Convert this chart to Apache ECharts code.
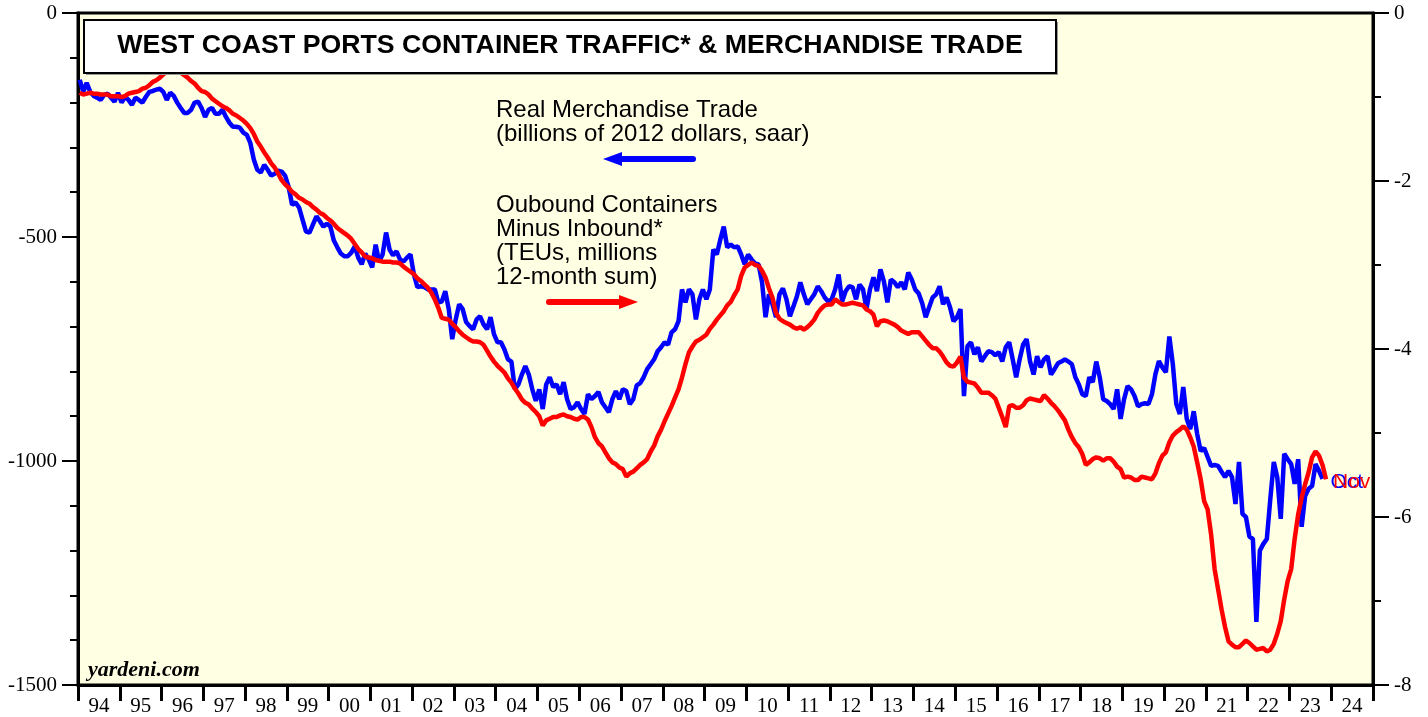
<!DOCTYPE html>
<html>
<head>
<meta charset="utf-8">
<script src="https://cdn.jsdelivr.net/npm/echarts@6/dist/echarts.min.js"></script>
<style>html,body{margin:0;padding:0;background:#fff;}#chart{width:1428px;height:717px;}</style>
</head>
<body>
<div id="chart"></div>
<script>
// x-axis tick labels (years)
const yearLabels = ['94','95','96','97','98','99','00','01','02','03','04','05','06','07','08','09','10','11','12','13','14','15','16','17','18','19','20','21','22','23','24'];
const startYear = 1994;

// Real Merchandise Trade balance, billions of 2012 dollars, saar (monthly, Jan 1994 - Oct 2023)
const tradeBalance = [
 -149,-176,-156,-176,-185,-189,-194,-183,-180,-189,-198,-178,
 -200,-187,-194,-205,-189,-194,-200,-187,-176,-174,-171,-169,
 -176,-194,-178,-185,-200,-212,-223,-223,-216,-200,-198,-212,
 -232,-216,-212,-225,-225,-216,-232,-245,-254,-254,-256,-267,
 -272,-290,-327,-350,-356,-339,-350,-363,-359,-352,-354,-363,
 -388,-428,-423,-434,-461,-488,-490,-472,-454,-465,-477,-470,
 -477,-508,-523,-537,-543,-543,-535,-521,-546,-561,-537,-550,
 -568,-517,-555,-539,-490,-528,-541,-532,-550,-555,-546,-539,
 -584,-612,-610,-612,-617,-617,-617,-646,-644,-621,-661,-728,
 -684,-650,-661,-690,-699,-706,-684,-677,-695,-706,-679,-717,
 -735,-735,-751,-773,-778,-840,-829,-807,-788,-807,-840,-866,
 -840,-884,-829,-813,-835,-829,-851,-824,-862,-884,-880,-869,
 -884,-895,-851,-862,-855,-846,-869,-880,-891,-862,-844,-862,
 -840,-844,-873,-862,-831,-826,-813,-795,-784,-773,-755,-746,
 -735,-740,-713,-706,-688,-617,-646,-617,-628,-684,-639,-617,
 -639,-617,-528,-539,-506,-477,-523,-517,-523,-521,-539,-561,
 -539,-550,-559,-561,-601,-679,-628,-650,-679,-628,-615,-639,
 -677,-655,-633,-601,-628,-650,-639,-628,-610,-621,-635,-644,
 -639,-617,-584,-644,-621,-610,-612,-639,-606,-617,-661,-617,
 -590,-621,-572,-599,-646,-595,-601,-612,-601,-617,-579,-595,
 -617,-626,-648,-679,-657,-635,-628,-610,-650,-635,-657,-688,
 -679,-661,-855,-744,-735,-762,-746,-778,-766,-755,-757,-764,
 -757,-778,-746,-735,-773,-813,-773,-740,-728,-778,-807,-766,
 -791,-773,-766,-807,-795,-782,-778,-773,-778,-784,-813,-829,
 -851,-855,-813,-824,-778,-813,-862,-866,-873,-884,-840,-906,
 -862,-833,-840,-855,-878,-873,-871,-873,-851,-806,-777,-791,
 -802,-722,-784,-873,-895,-835,-906,-929,-889,-940,-978,-971,
 -991,-1011,-1009,-1011,-1024,-1036,-1022,-1036,-1096,-1002,-1118,-1125,
 -1169,-1174,-1359,-1200,-1185,-1174,-1085,-1002,-1036,-1129,-984,-996,
 -1007,-1051,-996,-1147,-1078,-1062,-1056,-1007,-1022,-1040
];

// Outbound minus inbound containers, TEUs millions, 12-month sum (monthly, Jan 1994 - Nov 2023)
const containerNet = [
 -0.95,-0.97,-0.96,-0.95,-0.96,-0.96,-0.97,-0.97,-0.97,-0.99,-0.99,-0.99,
 -1.00,-0.99,-0.96,-0.95,-0.94,-0.93,-0.90,-0.89,-0.86,-0.82,-0.80,-0.77,
 -0.73,-0.70,-0.69,-0.69,-0.70,-0.71,-0.74,-0.77,-0.81,-0.84,-0.89,-0.93,
 -0.94,-0.97,-1.02,-1.05,-1.08,-1.11,-1.13,-1.16,-1.20,-1.22,-1.25,-1.28,
 -1.32,-1.37,-1.44,-1.53,-1.59,-1.66,-1.72,-1.79,-1.84,-1.91,-1.99,-2.04,
 -2.08,-2.13,-2.16,-2.20,-2.22,-2.25,-2.27,-2.31,-2.34,-2.38,-2.40,-2.44,
 -2.47,-2.51,-2.56,-2.59,-2.62,-2.65,-2.69,-2.75,-2.81,-2.85,-2.90,-2.91,
 -2.92,-2.94,-2.95,-2.96,-2.96,-2.96,-2.97,-2.97,-2.98,-3.02,-3.05,-3.08,
 -3.11,-3.16,-3.19,-3.23,-3.27,-3.33,-3.41,-3.51,-3.63,-3.64,-3.65,-3.70,
 -3.74,-3.79,-3.83,-3.86,-3.89,-3.91,-3.91,-3.92,-3.95,-4.02,-4.09,-4.15,
 -4.20,-4.24,-4.28,-4.35,-4.40,-4.47,-4.53,-4.60,-4.64,-4.66,-4.71,-4.75,
 -4.80,-4.91,-4.85,-4.83,-4.81,-4.81,-4.79,-4.78,-4.80,-4.81,-4.83,-4.84,
 -4.81,-4.81,-4.84,-4.93,-5.05,-5.12,-5.16,-5.23,-5.30,-5.35,-5.37,-5.41,
 -5.43,-5.52,-5.48,-5.46,-5.42,-5.38,-5.35,-5.31,-5.22,-5.15,-5.04,-4.96,
 -4.86,-4.77,-4.68,-4.58,-4.48,-4.34,-4.18,-4.04,-3.97,-3.91,-3.89,-3.86,
 -3.83,-3.76,-3.71,-3.65,-3.60,-3.55,-3.48,-3.44,-3.36,-3.29,-3.13,-3.03,
 -3.00,-2.97,-3.00,-3.01,-3.07,-3.15,-3.28,-3.39,-3.57,-3.64,-3.67,-3.69,
 -3.71,-3.74,-3.76,-3.74,-3.77,-3.74,-3.70,-3.65,-3.57,-3.52,-3.48,-3.47,
 -3.47,-3.41,-3.44,-3.47,-3.47,-3.46,-3.45,-3.46,-3.47,-3.48,-3.53,-3.55,
 -3.59,-3.73,-3.67,-3.66,-3.67,-3.69,-3.71,-3.74,-3.78,-3.80,-3.82,-3.80,
 -3.80,-3.80,-3.85,-3.90,-3.95,-3.99,-3.99,-4.03,-4.09,-4.16,-4.20,-4.21,
 -4.16,-4.09,-4.34,-4.39,-4.40,-4.41,-4.46,-4.52,-4.52,-4.52,-4.55,-4.59,
 -4.70,-4.81,-4.93,-4.68,-4.67,-4.70,-4.70,-4.67,-4.61,-4.59,-4.60,-4.61,
 -4.62,-4.55,-4.59,-4.64,-4.68,-4.73,-4.79,-4.85,-4.96,-5.05,-5.12,-5.17,
 -5.25,-5.38,-5.35,-5.31,-5.29,-5.30,-5.33,-5.30,-5.30,-5.34,-5.40,-5.43,
 -5.53,-5.52,-5.53,-5.56,-5.56,-5.52,-5.53,-5.54,-5.55,-5.48,-5.36,-5.27,
 -5.23,-5.11,-5.03,-4.99,-4.96,-4.92,-4.96,-5.05,-5.16,-5.35,-5.55,-5.81,
 -5.91,-6.21,-6.62,-6.86,-7.10,-7.31,-7.48,-7.52,-7.55,-7.55,-7.51,-7.47,
 -7.50,-7.54,-7.58,-7.57,-7.56,-7.60,-7.58,-7.51,-7.39,-7.24,-6.98,-6.76,
 -6.62,-6.26,-5.97,-5.77,-5.61,-5.47,-5.29,-5.22,-5.27,-5.38,-5.55
];

const leftTicks = {min: -1500, max: 0, interval: 500};
const rightTicks = {min: -8, max: 0, interval: 2};

function monthly(arr) {
  return arr.map((v, i) => [startYear + (i + 0.5) / 12, v]);
}

const chart = echarts.init(document.getElementById('chart'), null, {renderer: 'canvas'});
const serif = 'Liberation Serif, Times New Roman, serif';
const sans = 'Liberation Sans, Arial, sans-serif';
const plain = v => String(v);

const option = {
  animation: false,
  backgroundColor: '#ffffff',
  grid: {left: 78, right: 55, top: 13, bottom: 31, show: true,
         backgroundColor: '#FFFFE4', borderColor: '#000', borderWidth: 3},
  xAxis: [
    {type: 'category', data: yearLabels, boundaryGap: true, position: 'bottom',
     axisLine: {show: true, onZero: false, lineStyle: {color: '#000', width: 3}},
     axisTick: {show: true, interval: 0, length: 16, lineStyle: {color: '#000', width: 3}},
     axisLabel: {interval: 0, margin: 11, fontFamily: serif, fontSize: 21, color: '#000'},
     splitLine: {show: false}},
    {type: 'value', min: startYear, max: startYear + yearLabels.length, show: false, position: 'top',
     axisLine: {show: false, onZero: false}, axisTick: {show: false}, axisLabel: {show: false}, splitLine: {show: false}}
  ],
  yAxis: [
    {type: 'value', position: 'left', min: leftTicks.min, max: leftTicks.max, interval: leftTicks.interval,
     axisLine: {show: true, onZero: false, lineStyle: {color: '#000', width: 3}},
     axisTick: {show: true, length: 16, lineStyle: {color: '#000', width: 2}},
     minorTick: {show: true, splitNumber: 5, length: 8, lineStyle: {color: '#000', width: 2}},
     splitLine: {show: false}, minorSplitLine: {show: false},
     axisLabel: {margin: 21, fontFamily: serif, fontSize: 21, color: '#000', formatter: plain}},
    {type: 'value', position: 'right', min: rightTicks.min, max: rightTicks.max, interval: rightTicks.interval,
     axisLine: {show: true, onZero: false, lineStyle: {color: '#000', width: 3}},
     axisTick: {show: true, length: 16, lineStyle: {color: '#000', width: 2}},
     minorTick: {show: true, splitNumber: 2, length: 8, lineStyle: {color: '#000', width: 2}},
     splitLine: {show: false}, minorSplitLine: {show: false},
     axisLabel: {margin: 21, fontFamily: serif, fontSize: 21, color: '#000', formatter: plain}}
  ],
  series: [
    {name: 'Real Merchandise Trade', type: 'line', xAxisIndex: 1, yAxisIndex: 0,
     data: monthly(tradeBalance), showSymbol: false, symbol: 'none',
     lineStyle: {color: '#0000FF', width: 4.5}, itemStyle: {color: '#0000FF'},
     endLabel: {show: true, formatter: 'Oct', color: '#0000FF', fontFamily: sans, fontSize: 21, distance: 8, offset: [0, 3]},
     z: 2},
    {name: 'Containers', type: 'line', xAxisIndex: 1, yAxisIndex: 1,
     data: monthly(containerNet), showSymbol: false, symbol: 'none',
     lineStyle: {color: '#FF0000', width: 4.5}, itemStyle: {color: '#FF0000'},
     endLabel: {show: true, formatter: 'Nov', color: '#FF0000', fontFamily: sans, fontSize: 21, distance: 7, offset: [0, 3]},
     z: 3}
  ],
  graphic: [
    {type: 'rect', z: 10, shape: {x: 86, y: 22, width: 972, height: 53}, style: {fill: '#9a9a9a'}},
    {type: 'rect', z: 11, shape: {x: 84, y: 20, width: 972, height: 53}, style: {fill: '#fff', stroke: '#000', lineWidth: 2}},
    {type: 'text', z: 12, x: 570, y: 46,
     style: {text: 'WEST COAST PORTS CONTAINER TRAFFIC* & MERCHANDISE TRADE', fill: '#000',
             font: 'bold 26.7px ' + sans, align: 'center', verticalAlign: 'middle',
             textAlign: 'center', textVerticalAlign: 'middle'}},
    {type: 'text', z: 12, x: 496, y: 98,
     style: {text: 'Real Merchandise Trade\n(billions of 2012 dollars, saar)', fill: '#000',
             font: '24px ' + sans, lineHeight: 24, align: 'left', verticalAlign: 'top',
             textAlign: 'left', textVerticalAlign: 'top'}},
    {type: 'line', z: 12, shape: {x1: 693, y1: 159, x2: 616, y2: 159},
     style: {stroke: '#0000FF', lineWidth: 6, lineCap: 'round'}},
    {type: 'polygon', z: 12, shape: {points: [[603, 159], [622, 152], [622, 166]]}, style: {fill: '#0000FF'}},
    {type: 'text', z: 12, x: 496, y: 193,
     style: {text: 'Oubound Containers\nMinus Inbound*\n(TEUs, millions\n12-month sum)', fill: '#000',
             font: '24px ' + sans, lineHeight: 24, align: 'left', verticalAlign: 'top',
             textAlign: 'left', textVerticalAlign: 'top'}},
    {type: 'line', z: 12, shape: {x1: 549, y1: 302, x2: 624, y2: 302},
     style: {stroke: '#FF0000', lineWidth: 6, lineCap: 'round'}},
    {type: 'polygon', z: 12, shape: {points: [[638, 302], [619, 295], [619, 309]]}, style: {fill: '#FF0000'}},
    {type: 'text', z: 12, x: 88, y: 670,
     style: {text: 'yardeni.com', fill: '#000', font: 'italic bold 22px ' + serif,
             align: 'left', verticalAlign: 'middle', textAlign: 'left', textVerticalAlign: 'middle'}}
  ]
};
chart.setOption(option);
</script>
</body>
</html>
